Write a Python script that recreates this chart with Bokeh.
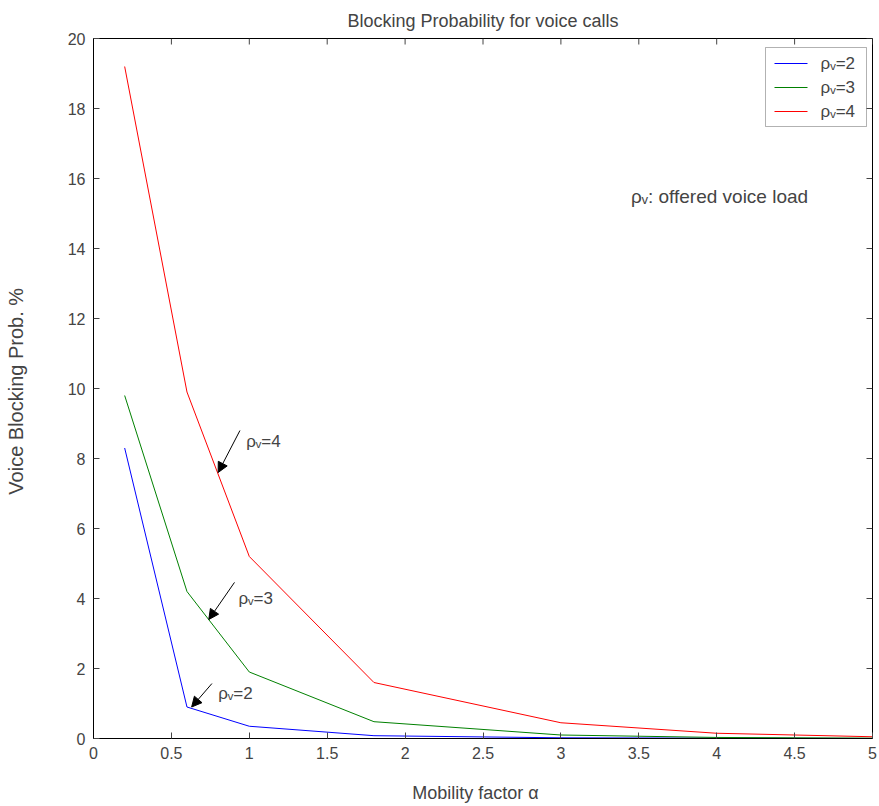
import math
from bokeh.plotting import figure
from bokeh.models import Arrow, NormalHead, Label, FixedTicker, Range1d, BoxAnnotation
from bokeh.embed import file_html
from bokeh.resources import INLINE

# ---- data ----
mobility = [0.2, 0.6, 1.0, 1.8, 3.0, 4.0, 5.0]
block_rho2 = [8.3, 0.9, 0.35, 0.08, 0.02, 0.01, 0.0]
block_rho3 = [9.8, 4.2, 1.9, 0.48, 0.1, 0.03, 0.01]
block_rho4 = [19.2, 9.9, 5.2, 1.6, 0.45, 0.15, 0.05]
series_labels = ["ρᵥ=2", "ρᵥ=3", "ρᵥ=4"]
series_colors = ["#0000ff", "#008000", "#ff0000"]
x_ticks = [0, 0.5, 1, 1.5, 2, 2.5, 3, 3.5, 4, 4.5, 5]
y_ticks = [0, 2, 4, 6, 8, 10, 12, 14, 16, 18, 20]
x_min, x_max = 0, 5
y_min, y_max = 0, 20
title_text = "Blocking Probability for voice calls"

FONT = "Liberation Sans"
W, H = 879, 805
BL, BR, BT, BB = 93, 7, 38, 67
FW, FH = W - BL - BR, H - BT - BB  # frame size in pixels


def px_to_x(px):
    return x_min + px / FW * (x_max - x_min)


def px_to_y(py):
    return y_min + py / FH * (y_max - y_min)


p = figure(width=W, height=H, output_backend="svg", toolbar_location=None,
           x_range=Range1d(x_min, x_max), y_range=Range1d(y_min, y_max),
           title=title_text,
           min_border_left=BL, min_border_right=BR, min_border_top=BT, min_border_bottom=BB)
p.title.align = "center"
p.title.text_font = FONT
p.title.text_font_size = "18px"
p.title.text_font_style = "normal"
p.title.offset = 0
p.title.standoff = 16

p.xgrid.visible = False
p.ygrid.visible = False
p.outline_line_color = "black"
p.outline_line_alpha = 1.0

p.xaxis.ticker = FixedTicker(ticks=x_ticks)
p.yaxis.ticker = FixedTicker(ticks=y_ticks)
for ax in (p.xaxis[0], p.yaxis[0]):
    ax.major_tick_in = 6
    ax.major_tick_out = 0
    ax.minor_tick_line_color = None
    ax.major_label_text_font = FONT
    ax.major_label_text_font_size = "16px"
    ax.axis_label_text_font = FONT
    ax.axis_label_text_font_style = "normal"
    ax.axis_line_color = "black"
    ax.major_tick_line_color = "#444444"
p.xaxis.axis_label = "Mobility factor    α"
p.yaxis.axis_label = "Voice Blocking Prob.  %"
p.xaxis.axis_label_text_font_size = "18px"
p.yaxis.axis_label_text_font_size = "20px"
p.xaxis.major_label_standoff = 8
p.yaxis.major_label_standoff = 8
p.xaxis.axis_label_standoff = 21
p.yaxis.axis_label_standoff = 38

# inward ticks on the top and right edges of the box
p.ray(x=x_ticks, y=[y_max] * len(x_ticks), length=6, length_units="screen",
      angle=-math.pi / 2, line_color="#444444")
p.ray(x=[x_max] * len(y_ticks), y=y_ticks, length=6, length_units="screen",
      angle=math.pi, line_color="#444444")

for ys, col in zip([block_rho2, block_rho3, block_rho4], series_colors):
    p.line(mobility, ys, line_color=col, line_width=1)

# ---- legend drawn by hand (screen pixels relative to the frame's bottom-left) ----
leg_right, leg_top = FW - 6, FH - 9
leg_w, leg_h, row_h = 101, 79, 24
p.add_layout(BoxAnnotation(left=leg_right - leg_w, right=leg_right, top=leg_top,
                           bottom=leg_top - leg_h, left_units="screen", right_units="screen",
                           top_units="screen", bottom_units="screen", fill_color="white",
                           fill_alpha=1.0, line_color="black", line_width=1, level="underlay"))
x0 = leg_right - leg_w + 9
rows = [leg_top - 16 - i * row_h for i in range(len(series_labels))]
# coloured swatches as glyph rays (start point converted from frame pixels)
p.ray(x=[px_to_x(x0)] * len(rows), y=[px_to_y(r) for r in rows], length=33,
      length_units="screen", angle=0, line_color=series_colors, line_width=1)
for lab, yrow in zip(series_labels, rows):
    p.add_layout(Label(x=x0 + 46, y=yrow, x_units="screen", y_units="screen", text=lab,
                       text_font=FONT, text_font_size="17px", text_baseline="middle"))

p.add_layout(Label(x=3.45, y=15.5, text="ρᵥ: offered voice load", text_font=FONT,
                   text_font_size="19px", text_baseline="middle"))

ann = [  # (x_start, y_start, x_end, y_end, text_x, text_y, label)
    (0.94, 8.8, 0.80, 7.6, 0.98, 8.5, series_labels[2]),
    (0.905, 4.46, 0.74, 3.4, 0.93, 4.0, series_labels[1]),
    (0.76, 1.57, 0.63, 0.9, 0.80, 1.3, series_labels[0]),
]
for xs, ys, xe, ye, tx, ty, lab in ann:
    p.add_layout(Arrow(x_start=xs, y_start=ys, x_end=xe, y_end=ye, line_color="black",
                       line_width=1,
                       end=NormalHead(size=10, fill_color="black", line_color="black")))
    p.add_layout(Label(x=tx, y=ty, text=lab, text_font=FONT, text_font_size="17px",
                       text_baseline="middle"))

open("out.html", "w").write(file_html(p, INLINE))
